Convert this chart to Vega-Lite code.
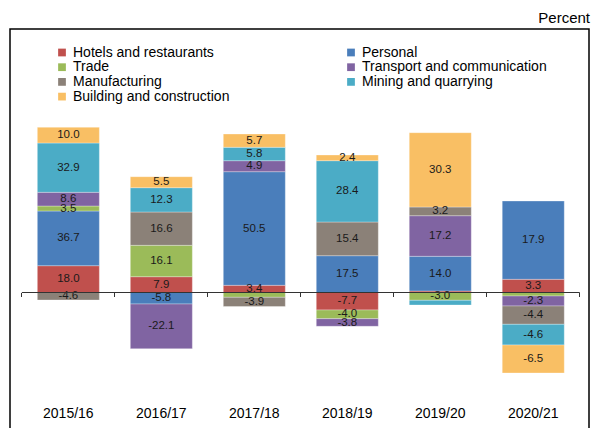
{
  "$schema": "https://vega.github.io/schema/vega-lite/v6.json",
  "width": 579,
  "height": 401,
  "autosize": {"type": "none"},
  "padding": {"left": 10, "top": 29, "right": 3, "bottom": 0},
  "background": "#ffffff",
  "config": {
    "font": "Liberation Sans",
    "view": {"stroke": "#000000", "strokeWidth": 1.5}
  },
  "title": {
    "text": "Percent",
    "anchor": "end",
    "frame": "group",
    "fontSize": 15,
    "fontWeight": "normal",
    "color": "#000000",
    "baseline": "bottom",
    "offset": 4,
    "dx": 1,
    "dy": 16
  },
  "data": {
    "values": [
      {"year": "2015/16", "sector": "Hotels and restaurants", "value": 13.4, "label": "18.0"},
      {"year": "2015/16", "sector": "Personal", "value": 27.35, "label": "36.7"},
      {"year": "2015/16", "sector": "Trade", "value": 2.5, "label": "3.5"},
      {"year": "2015/16", "sector": "Transport and communication", "value": 6.85, "label": "8.6"},
      {"year": "2015/16", "sector": "Manufacturing", "value": -3.75, "label": "-4.6"},
      {"year": "2015/16", "sector": "Mining and quarrying", "value": 24.65, "label": "32.9"},
      {"year": "2015/16", "sector": "Building and construction", "value": 7.85, "label": "10.0"},
      {"year": "2016/17", "sector": "Hotels and restaurants", "value": 7.9, "label": "7.9"},
      {"year": "2016/17", "sector": "Personal", "value": -5.75, "label": "-5.8"},
      {"year": "2016/17", "sector": "Trade", "value": 15.7, "label": "16.1"},
      {"year": "2016/17", "sector": "Transport and communication", "value": -22.35, "label": "-22.1"},
      {"year": "2016/17", "sector": "Manufacturing", "value": 16.65, "label": "16.6"},
      {"year": "2016/17", "sector": "Mining and quarrying", "value": 12.15, "label": "12.3"},
      {"year": "2016/17", "sector": "Building and construction", "value": 5.5, "label": "5.5"},
      {"year": "2017/18", "sector": "Hotels and restaurants", "value": 3.6, "label": "3.4"},
      {"year": "2017/18", "sector": "Personal", "value": 56.8, "label": "50.5"},
      {"year": "2017/18", "sector": "Trade", "value": -2.4, "label": ""},
      {"year": "2017/18", "sector": "Transport and communication", "value": 5.5, "label": "4.9"},
      {"year": "2017/18", "sector": "Manufacturing", "value": -4.6, "label": "-3.9"},
      {"year": "2017/18", "sector": "Mining and quarrying", "value": 6.7, "label": "5.8"},
      {"year": "2017/18", "sector": "Building and construction", "value": 6.65, "label": "5.7"},
      {"year": "2018/19", "sector": "Hotels and restaurants", "value": -8.75, "label": "-7.7"},
      {"year": "2018/19", "sector": "Personal", "value": 18.4, "label": "17.5"},
      {"year": "2018/19", "sector": "Trade", "value": -4.35, "label": "-4.0"},
      {"year": "2018/19", "sector": "Transport and communication", "value": -3.8, "label": "-3.8"},
      {"year": "2018/19", "sector": "Manufacturing", "value": 16.85, "label": "15.4"},
      {"year": "2018/19", "sector": "Mining and quarrying", "value": 30.65, "label": "28.4"},
      {"year": "2018/19", "sector": "Building and construction", "value": 2.85, "label": "2.4"},
      {"year": "2019/20", "sector": "Hotels and restaurants", "value": 0.75, "label": ""},
      {"year": "2019/20", "sector": "Personal", "value": 17.35, "label": "14.0"},
      {"year": "2019/20", "sector": "Trade", "value": -3.9, "label": "-3.0"},
      {"year": "2019/20", "sector": "Transport and communication", "value": 20.3, "label": "17.2"},
      {"year": "2019/20", "sector": "Manufacturing", "value": 4.35, "label": "3.2"},
      {"year": "2019/20", "sector": "Mining and quarrying", "value": -2.35, "label": ""},
      {"year": "2019/20", "sector": "Building and construction", "value": 37.15, "label": "30.3"},
      {"year": "2020/21", "sector": "Hotels and restaurants", "value": 6.6, "label": "3.3"},
      {"year": "2020/21", "sector": "Personal", "value": 39.15, "label": "17.9"},
      {"year": "2020/21", "sector": "Trade", "value": -1.75, "label": ""},
      {"year": "2020/21", "sector": "Transport and communication", "value": -5, "label": "-2.3"},
      {"year": "2020/21", "sector": "Manufacturing", "value": -9.15, "label": "-4.4"},
      {"year": "2020/21", "sector": "Mining and quarrying", "value": -10.35, "label": "-4.6"},
      {"year": "2020/21", "sector": "Building and construction", "value": -14, "label": "-6.5"}
    ]
  },
  "transform": [
    {"calculate": "indexof(['Hotels and restaurants','Personal','Trade','Transport and communication','Manufacturing','Mining and quarrying','Building and construction'], datum.sector)", "as": "k"}
  ],
  "resolve": {"axis": {"x": "independent"}},
  "layer": [
    {
      "mark": {"type": "bar", "stroke": "#ffffff", "strokeWidth": 0.6, "strokeOpacity": 0.5},
      "encoding": {
        "x": {
          "field": "year", "type": "nominal", "sort": null,
          "scale": {"paddingInner": 0.333, "paddingOuter": 0.28, "align": 0.525},
          "axis": {"orient": "bottom", "title": null, "domain": false, "ticks": false, "tickSize": 0, "labelPadding": -16.7, "labelBaseline": "middle", "labelFontSize": 14, "labelColor": "#000000", "labelAngle": 0}
        },
        "y": {
          "field": "value", "type": "quantitative", "stack": "zero",
          "scale": {"domain": [-68.75, 131.75], "nice": false, "zero": false},
          "axis": null
        },
        "order": {"field": "k", "type": "quantitative"},
        "color": {
          "field": "sector", "type": "nominal",
          "scale": {
            "domain": ["Hotels and restaurants", "Personal", "Trade", "Transport and communication", "Manufacturing", "Mining and quarrying", "Building and construction"],
            "range": ["#C0504D", "#4A7EBB", "#9BBB59", "#8064A2", "#8B8178", "#4BACC6", "#F9BF64"]
          },
          "legend": {
            "orient": "none", "legendX": 45, "legendY": 16.5, "columns": 2, "direction": "horizontal", "title": null,
            "symbolType": "square", "symbolSize": 60, "symbolStrokeWidth": 0,
            "labelFontSize": 14, "labelColor": "#000000", "rowPadding": 0.7, "columnPadding": 114,
            "labelLimit": 300, "padding": 0
          }
        }
      }
    },
    {
      "mark": {"type": "text", "fontSize": 11.5, "color": "#1a1a1a"},
      "encoding": {
        "x": {"field": "year", "type": "nominal", "sort": null,
          "axis": {"orient": "bottom", "offset": -137.5, "title": null, "domain": false, "labels": false, "ticks": true, "tickSize": 4, "tickColor": "#333333", "tickWidth": 1, "bandPosition": -0.25, "values": ["2015/16"], "zindex": 1}
        },
        "y": {"field": "value", "type": "quantitative", "stack": "zero", "bandPosition": 0.5},
        "detail": {"field": "sector"},
        "order": {"field": "k", "type": "quantitative"},
        "text": {"field": "label"}
      }
    },
    {
      "data": {"values": [{"a": "2015/16", "b": "2020/21"}]},
      "mark": {"type": "rule", "color": "#333333", "strokeWidth": 1},
      "encoding": {
        "x": {"field": "a", "type": "nominal", "bandPosition": -0.25,
          "axis": {"orient": "bottom", "offset": -137.5, "title": null, "domain": false, "labels": false, "ticks": true, "tickSize": 4, "tickColor": "#333333", "tickWidth": 1, "bandPosition": 1.25, "zindex": 1}
        },
        "x2": {"field": "b", "bandPosition": 1.25},
        "y": {"datum": 0}
      }
    }
  ]
}
